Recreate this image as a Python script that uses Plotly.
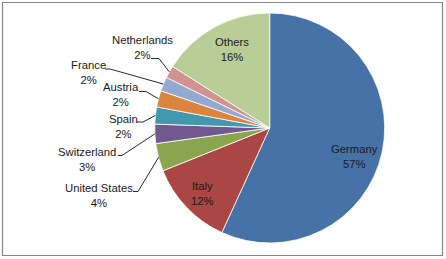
import math
import plotly.graph_objects as go

# ---- data ----
countries = ["Germany", "Italy", "United States", "Switzerland", "Spain",
             "Austria", "France", "Netherlands", "Others"]
shares = [56.8, 12.1, 3.9, 2.7, 2.4, 2.3, 2.0, 1.75, 16.0]
colors = ["#4672A8", "#AA4643", "#89A54E", "#71588F", "#4198AF",
          "#DB843D", "#93A9CF", "#D19392", "#B9CD96"]

W, H = 446, 259
CX, CY, R = 269.7, 128.0, 115.0  # pie centre / radius in pixels


def px(x):
    return x / W


def py(y):
    return 1 - y / H


total = sum(shares)
pcts = [round(v / total * 100) for v in shares]

# mid angles (clockwise from 12 o'clock)
mids = []
acc = 0.0
for v in shares:
    a0 = acc / total * 360
    acc += v
    a1 = acc / total * 360
    mids.append((a0 + a1) / 2)

fig = go.Figure(go.Pie(
    labels=countries, values=shares, sort=False, direction="clockwise",
    rotation=0, textinfo="none", hoverinfo="label+percent",
    marker=dict(colors=colors, line=dict(color="white", width=0.8)),
    domain=dict(x=[px(CX - R), px(CX + R)], y=[py(CY + R), py(CY - R)]),
    showlegend=False,
))

# label placement (pixel centres of label blocks) - layout constants
label_pos = {
    "Germany": (354.7, 156.0),
    "Italy": (202.0, 193.5),
    "United States": (99.0, 195.5),
    "Switzerland": (87.0, 159.5),
    "Spain": (123.0, 126.0),
    "Austria": (120.5, 94.5),
    "France": (88.0, 72.5),
    "Netherlands": (142.0, 47.5),
    "Others": (232.0, 49.0),
}
# leader elbows: (x_start, x_end, y) in pixels
leaders = {
    "United States": (133, 138, 191.5),
    "Switzerland": (118, 122, 155.5),
    "Spain": (137, 143, 122.0),
    "Austria": (139, 146, 91.5),
    "France": (105, 110, 69.0),
    "Netherlands": (151, 159, 58.5),
}

FONT = dict(family="Liberation Sans, Arial, sans-serif", size=11.3, color="#1a1a1a")

annotations = []
shapes = []
for name, pct, mid in zip(countries, pcts, mids):
    lx, ly = label_pos[name]
    annotations.append(dict(
        x=px(lx), y=py(ly), xref="paper", yref="paper",
        text=f"{name}<br>{pct}%", showarrow=False,
        xanchor="center", yanchor="middle", align="center", font=FONT,
    ))
    if name in leaders:
        xs, xe, yy = leaders[name]
        ax = CX + R * math.sin(math.radians(mid))
        ay = CY - R * math.cos(math.radians(mid))
        shapes.append(dict(
            type="path", xref="paper", yref="paper",
            path=f"M {px(xs)},{py(yy)} L {px(xe)},{py(yy)} L {px(ax)},{py(ay)}",
            line=dict(color="#111111", width=0.9),
        ))

# chart border
shapes.append(dict(type="rect", xref="paper", yref="paper",
                   x0=px(2.5), y0=py(255.5), x1=px(442.5), y1=py(2.5),
                   line=dict(color="#868686", width=1.2)))

fig.update_layout(
    width=W, height=H, margin=dict(l=0, r=0, t=0, b=0),
    paper_bgcolor="white", plot_bgcolor="white",
    annotations=annotations, shapes=shapes,
)

fig.write_html("out.html")
